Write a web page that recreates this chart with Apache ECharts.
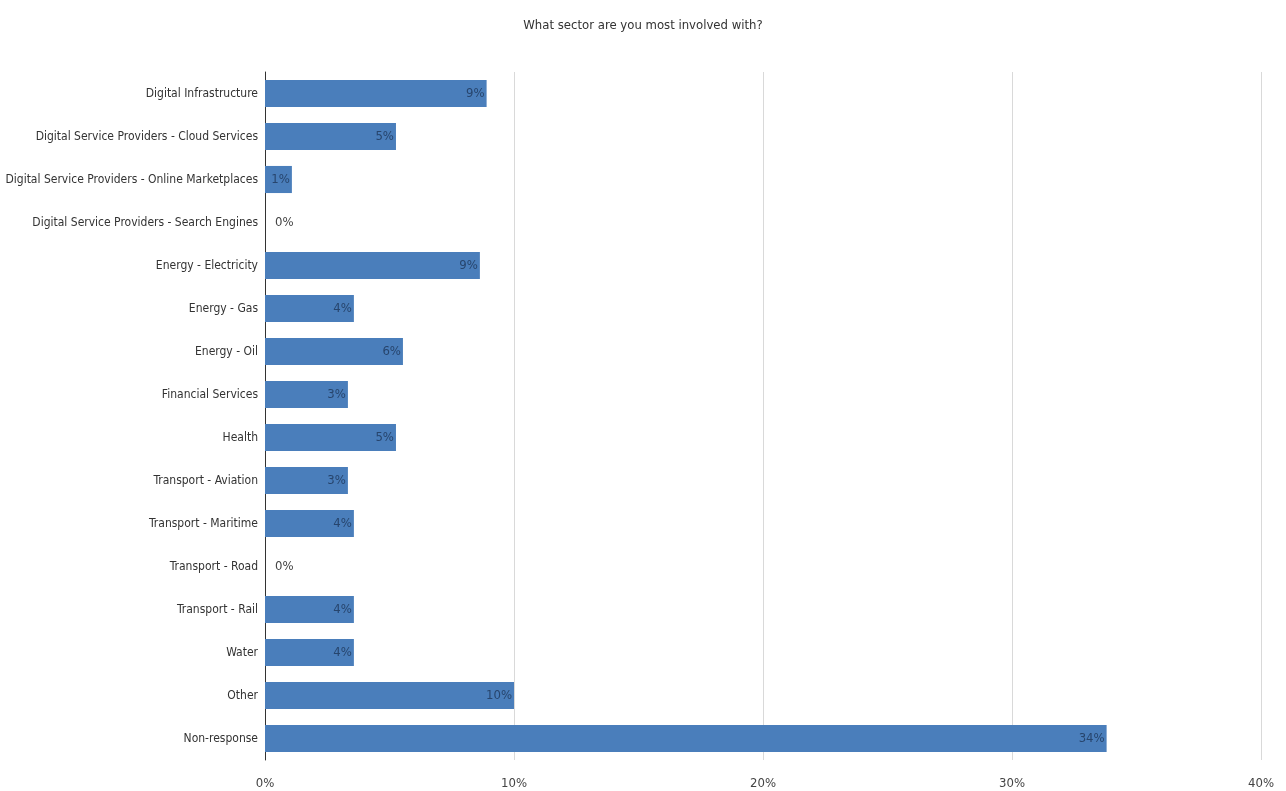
<!DOCTYPE html>
<html>
<head>
<meta charset="utf-8">
<script src="https://cdn.jsdelivr.net/npm/echarts@6/dist/echarts.min.js"></script>
<style>
  html, body { margin: 0; padding: 0; background: #fff; }
  #chart { width: 1286px; height: 791px; }
</style>
</head>
<body>
<div id="chart"></div>
<script>
const categories = [
  "Digital Infrastructure",
  "Digital Service Providers - Cloud Services",
  "Digital Service Providers - Online Marketplaces",
  "Digital Service Providers - Search Engines",
  "Energy - Electricity",
  "Energy - Gas",
  "Energy - Oil",
  "Financial Services",
  "Health",
  "Transport - Aviation",
  "Transport - Maritime",
  "Transport - Road",
  "Transport - Rail",
  "Water",
  "Other",
  "Non-response"
];
const shares = [8.9, 5.26, 1.08, 0, 8.63, 3.57, 5.54, 3.33, 5.26, 3.33, 3.57, 0, 3.57, 3.57, 10.0, 33.8];
const xTicks = [0, 10, 20, 30, 40];

const font = '"DejaVu Sans Condensed", Roboto, sans-serif';

const chart = echarts.init(document.getElementById("chart"));

// zero bars get their label outside, the rest inside the bar end
const barData = shares.map((v) => ({
  value: v,
  label: v === 0
    ? { position: "right", color: "#444", distance: 10 }
    : { position: "insideRight", color: "#27456d", distance: 2 }
}));

chart.setOption({
  animation: false,
  title: {
    text: "What sector are you most involved with?",
    left: "center",
    top: 14,
    textStyle: { fontFamily: font, fontSize: 13, fontWeight: "normal", color: "#333" }
  },
  grid: { left: 265, right: 25, top: 72, bottom: 31, containLabel: false, outerBoundsMode: "none" },
  xAxis: {
    type: "value",
    min: xTicks[0],
    max: xTicks[xTicks.length - 1],
    interval: 10,
    axisLine: { show: false },
    axisTick: { show: false },
    splitLine: { lineStyle: { color: "#d9d9d9" } },
    axisLabel: {
      formatter: (v) => v + "%",
      fontFamily: font, fontSize: 13, color: "#444", margin: 17
    }
  },
  yAxis: {
    type: "category",
    data: categories,
    inverse: true,
    axisLine: { show: true, lineStyle: { color: "#333" } },
    axisTick: { show: false },
    axisLabel: { fontFamily: font, fontSize: 12, color: "#333", margin: 7 }
  },
  series: [{
    type: "bar",
    data: barData,
    barCategoryGap: "37%",
    itemStyle: { color: "#4a7ebb" },
    label: {
      show: true,
      fontFamily: font,
      fontSize: 13,
      formatter: (p) => Math.round(p.value) + "%"
    }
  }]
});
</script>
</body>
</html>
